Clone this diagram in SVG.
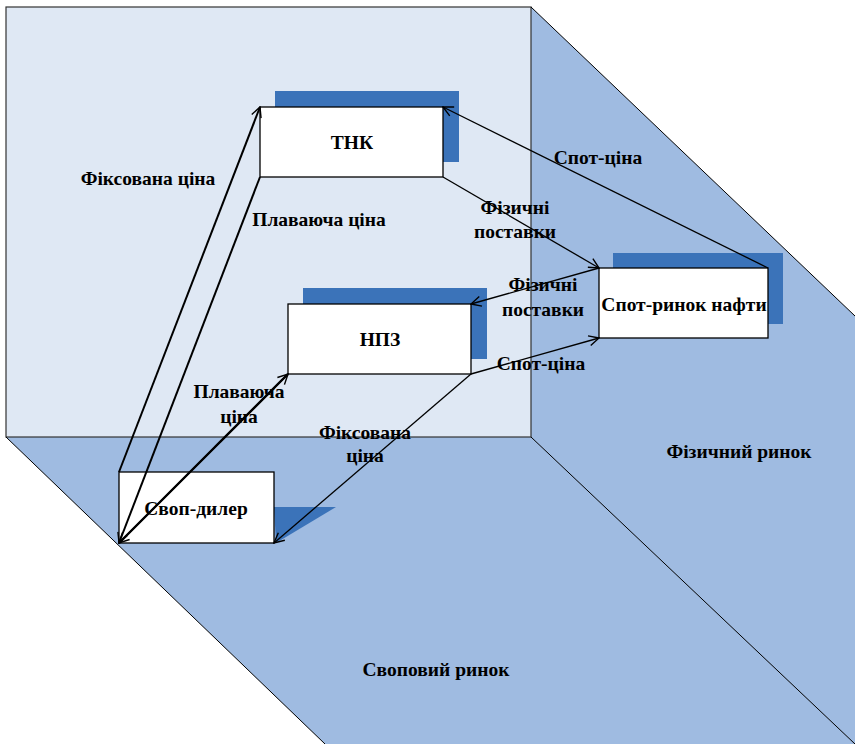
<svg xmlns="http://www.w3.org/2000/svg" width="855" height="744" viewBox="0 0 855 744">
<style>
text{font-family:"Liberation Serif","Times New Roman",serif;font-weight:bold;font-size:19.5px;fill:#000;text-anchor:middle}
.box{fill:#fff;stroke:#000;stroke-width:1.3}
.sh{fill:#3B73B9}
.c{stroke:#000;stroke-width:1.3;fill:none}
.ca{stroke:#000;stroke-width:2;fill:none}
.edge{stroke:#000;stroke-width:1;fill:none}
</style>
<defs>
<marker id="ah" viewBox="0 0 12 12" refX="11" refY="6" markerWidth="12" markerHeight="12" markerUnits="userSpaceOnUse" orient="auto">
<path d="M1,1 L11,6 L1,11" fill="none" stroke="#000" stroke-width="1.4"/>
</marker>
</defs>
<g id="background">
<rect x="0" y="0" width="855" height="744" fill="#fff"/>
<polygon points="6,437 531,437 531,7 855,316 855,744 325,744" fill="#9FBBE1"/>
<rect x="6" y="7" width="525" height="430" fill="#DFE8F4" stroke="#333" stroke-width="1.2"/>
<line class="edge" x1="531" y1="7" x2="855" y2="316"/>
<line class="edge" x1="531" y1="437" x2="855" y2="744"/>
<line class="edge" x1="6" y1="437" x2="325" y2="744"/>
</g>
<g id="node-tnk">
<rect class="sh" x="275" y="91" width="184" height="71"/>
<rect class="box" x="260" y="107" width="183" height="70"/>
<text x="352" y="149">ТНК</text>
</g>
<g id="node-npz">
<rect class="sh" x="303" y="288" width="184" height="71"/>
<rect class="box" x="288" y="304" width="183" height="70"/>
<text x="380" y="346">НПЗ</text>
</g>
<g id="node-spot">
<rect class="sh" x="613" y="253" width="170" height="71"/>
<rect class="box" x="599" y="268" width="169" height="70"/>
<text x="684" y="311">Спот-ринок нафти</text>
</g>
<g id="node-swap">
<polygon class="sh" points="274,507 336,507 276,543"/>
<rect class="box" x="119" y="472" width="155" height="71"/>
<text x="196" y="515">Своп-дилер</text>
</g>
<g id="connectors">
<line class="ca" x1="119" y1="472" x2="260" y2="107" marker-end="url(#ah)"/>
<line class="ca" x1="260" y1="177" x2="119" y2="543" marker-end="url(#ah)"/>
<line class="ca" x1="288" y1="374" x2="119" y2="543" marker-end="url(#ah)"/>
<line class="ca" x1="119" y1="543" x2="288" y2="374" marker-end="url(#ah)"/>
<line class="c" x1="471" y1="374" x2="274" y2="543" marker-end="url(#ah)"/>
<line class="c" x1="768" y1="268" x2="443" y2="107" marker-end="url(#ah)"/>
<line class="c" x1="443" y1="177" x2="599" y2="268" marker-end="url(#ah)"/>
<line class="c" x1="599" y1="268" x2="471" y2="304" marker-end="url(#ah)"/>
<line class="c" x1="471" y1="374" x2="599" y2="338" marker-end="url(#ah)"/>
</g>
<g id="labels">
<text x="148" y="185">Фіксована ціна</text>
<text x="319" y="226">Плаваюча ціна</text>
<text x="515" y="214">Фізичні</text>
<text x="515" y="238">поставки</text>
<text x="598" y="164">Спот-ціна</text>
<text x="543" y="291">Фізичні</text>
<text x="543" y="316">поставки</text>
<text x="541" y="370">Спот-ціна</text>
<text x="239" y="398">Плаваюча</text>
<text x="239" y="423">ціна</text>
<text x="365" y="439">Фіксована</text>
<text x="365" y="462">ціна</text>
<text x="739" y="458">Фізичний ринок</text>
<text x="436" y="676">Своповий ринок</text>
</g>
</svg>
